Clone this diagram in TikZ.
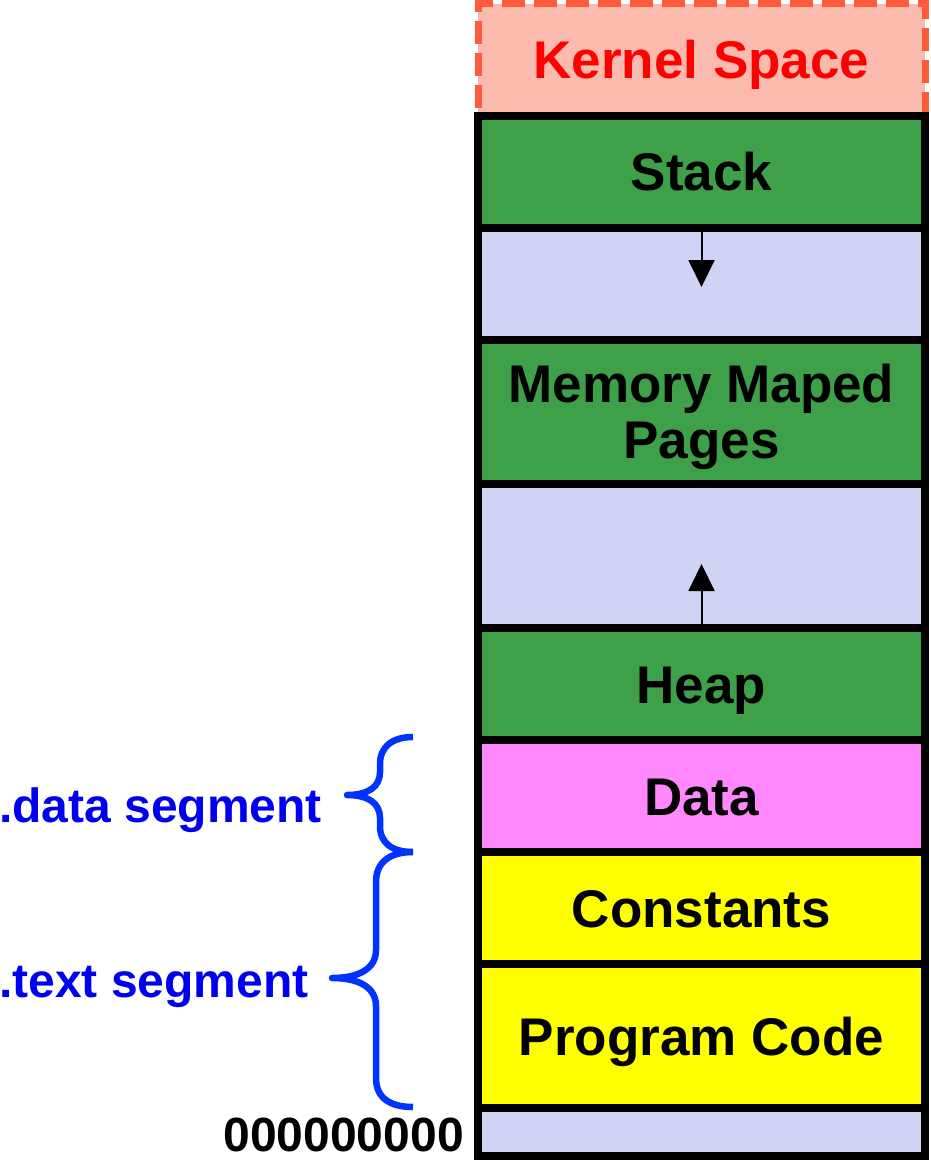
\documentclass[tikz,border=0pt]{standalone}
\usepackage{fontspec}
\setmainfont{Liberation Sans}
\usetikzlibrary{arrows.meta}

\definecolor{kfill}{RGB}{251,186,174}
\definecolor{kline}{RGB}{255,90,60}
\definecolor{kred}{RGB}{255,0,0}
\definecolor{segreen}{RGB}{62,161,74}
\definecolor{freegap}{RGB}{208,212,244}
\definecolor{datapink}{RGB}{255,136,255}
\definecolor{codeyellow}{RGB}{255,255,0}
\definecolor{bracecol}{RGB}{0,51,255}
\definecolor{labelblue}{RGB}{0,0,240}

\begin{document}
\begin{tikzpicture}[x=1pt,y=-1pt,
  boxfont/.style={font=\fontsize{53}{56}\selectfont\bfseries},
  region/.style={draw=black, line width=7.5pt, minimum width=447pt,
    inner sep=0pt, text height=38pt, text depth=0pt, boxfont},
  kernelbox/.style={draw=kline, fill=kfill, line width=7pt,
    dash pattern=on 23pt off 9pt, minimum width=447pt, inner sep=0pt,
    text height=38pt, text depth=0pt, text=kred, boxfont},
  growarrow/.style={line width=2pt, -{Triangle[width=26pt,length=27pt]}},
  segbrace/.style={draw=bracecol, line width=6.5pt, line join=round},
  seglabel/.style={text=labelblue, inner sep=0pt,
    font=\fontsize{48}{52}\selectfont\bfseries},
  addrlabel/.style={inner sep=0pt, font=\fontsize{48}{52}\selectfont\bfseries}]

\useasboundingbox (0,0) rectangle (930,1161);

% kernel area above the user address space
\node[kernelbox, minimum height=112.5pt] (kernel) at (701.5,60) {Kernel Space};

% user address space, top to bottom
\node[region, fill=segreen,    minimum height=112pt] (stack) at (701.5,172)  {Stack};
\node[region, fill=freegap,    minimum height=112pt] (gapa)  at (701.5,284)  {};
\node[region, fill=segreen,    minimum height=144pt] (mmap)  at (701.5,412)  {};
\node[region, fill=freegap,    minimum height=144pt] (gapb)  at (701.5,556)  {};
\node[region, fill=segreen,    minimum height=112pt] (heap)  at (701.5,684)  {Heap};
\node[region, fill=datapink,   minimum height=112pt] (data)  at (701.5,796)  {Data};
\node[region, fill=codeyellow, minimum height=112pt] (const) at (701.5,908)  {Constants};
\node[region, fill=codeyellow, minimum height=144pt] (code)  at (701.5,1036) {Program Code};
\node[region, fill=freegap,    minimum height=48pt]  (low)   at (701.5,1132) {};

% two-line caption of the mapped pages area
\node[boxfont, align=center, inner sep=0pt, yshift=-5pt] (mmaptext) at (mmap.center)
  {Memory Maped\\Pages};

% growth directions of stack and heap
\coordinate (stackgrow) at (701.5,287);
\coordinate (heapgrow)  at (701.5,564);
\draw[growarrow] (stack.south) -- (stackgrow);
\draw[growarrow] (heap.north) -- (heapgrow);

% segment braces
\draw[segbrace] (413,737) .. controls (392,737) and (380,747) .. (380,764)
  -- (380,772) .. controls (380,787) and (368,795) .. (347,795)
  .. controls (368,795) and (380,803) .. (380,818)
  -- (380,826) .. controls (380,843) and (392,852) .. (413,852);
\draw[segbrace] (413,852) .. controls (390,852) and (376,862) .. (376,882)
  -- (376,950) .. controls (376,968) and (360,978) .. (332,978)
  .. controls (360,978) and (376,988) .. (376,1006)
  -- (376,1078) .. controls (376,1098) and (390,1107) .. (413,1107);

\node[seglabel, anchor=base west] (datalabel) at (-1,822) {.data segment};
\node[seglabel, anchor=base west] (textlabel) at (-1,997) {.text segment};
\node[addrlabel, anchor=base east] (zeroaddr) at (464,1151) {000000000};

\end{tikzpicture}
\end{document}
